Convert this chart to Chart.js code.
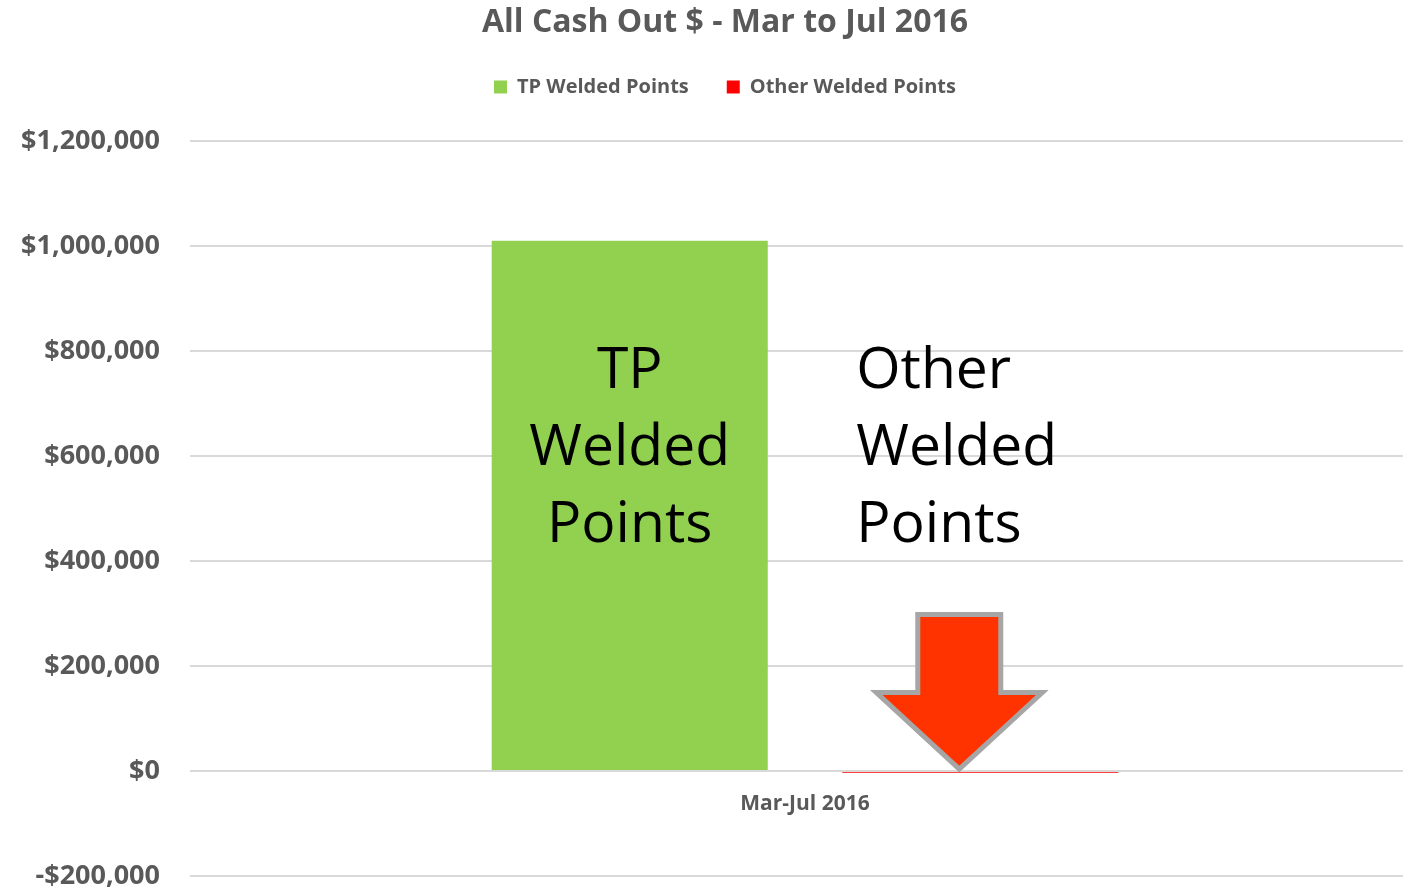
<!DOCTYPE html>
<html>
<head>
<meta charset="utf-8">
<title>All Cash Out $ - Mar to Jul 2016</title>
<script src="https://cdn.jsdelivr.net/npm/chart.js@4"></script>
<style>
    html, body { margin: 0; padding: 0; background: #fff; overflow: hidden; }
    #wrap { position: relative; width: 1450px; height: 890px; }
</style>
</head>
<body>
<div id="wrap"><canvas id="myChart"></canvas></div>
<script>
// data
var categories = ['Mar-Jul 2016'];
var seriesNames = ['TP Welded Points', 'Other Welded Points'];
var tpValues = [1010000];
var otherValues = [-3500];
var yMin = -200000;
var yMax = 1200000;
var yStep = 200000;

var grey = '#595959';
var font = '"Open Sans", "DejaVu Sans", sans-serif';

function money(v) {
    var s = '$' + Math.abs(v).toLocaleString('en-US');
    return v < 0 ? '-' + s : s;
}

// text boxes and the red arrow that sit on top of the bars
var overlay = {
    id: 'overlay',
    afterDatasetsDraw: function (chart) {
        var c = chart.ctx;
        var y = chart.scales.y;
        var zero = y.getPixelForValue(0);
        var tp = chart.getDatasetMeta(0).data[0];
        var other = chart.getDatasetMeta(1).data[0];

        c.save();
        c.fillStyle = '#000';
        c.font = '57px ' + font;
        c.textBaseline = 'middle';
        var lines = ['TP', 'Welded', 'Points'];
        c.textAlign = 'center';
        lines.forEach(function (t, i) {
            c.fillText(t, tp.x, zero - 399 + i * 77);
        });
        var lines2 = ['Other', 'Welded', 'Points'];
        c.textAlign = 'left';
        var left = other.x - other.width / 2 + 14;
        lines2.forEach(function (t, i) {
            c.fillText(t, left, zero - 399 + i * 77);
        });

        // down arrow
        var ax = other.x - 21;
        c.beginPath();
        c.moveTo(ax - 41.5, zero - 156.5);
        c.lineTo(ax + 41.5, zero - 156.5);
        c.lineTo(ax + 41.5, zero - 78.5);
        c.lineTo(ax + 83, zero - 78.5);
        c.lineTo(ax, zero - 2);
        c.lineTo(ax - 83, zero - 78.5);
        c.lineTo(ax - 41.5, zero - 78.5);
        c.closePath();
        c.fillStyle = '#ff3300';
        c.fill();
        c.lineWidth = 5;
        c.strokeStyle = '#a6a6a6';
        c.lineJoin = 'miter';
        c.stroke();
        c.restore();
    }
};

var ctx = document.getElementById('myChart').getContext('2d');
var myChart = new Chart(ctx, {
    type: 'bar',
    data: {
        labels: categories,
        datasets: [{
            label: seriesNames[0],
            data: tpValues,
            backgroundColor: '#92d050',
            categoryPercentage: 0.57,
            barPercentage: 0.7875
        }, {
            label: seriesNames[1],
            data: otherValues,
            backgroundColor: '#ff0000',
            categoryPercentage: 0.57,
            barPercentage: 0.7875
        }]
    },
    options: {
        responsive: true,
        maintainAspectRatio: false,
        animation: false,
        layout: { padding: { left: 30, right: 30, top: 0, bottom: 14 } },
        plugins: {
            title: {
                display: true,
                text: 'All Cash Out $ - Mar to Jul 2016',
                color: grey,
                font: { family: font, size: 32, weight: 'bold', lineHeight: 1 },
                padding: { top: 7, bottom: 0 }
            },
            // empty spacer between the legend and the plot
            subtitle: {
                display: true,
                text: '',
                weight: 500,
                font: { size: 2, lineHeight: 1 },
                padding: { top: 0, bottom: 32 }
            },
            legend: {
                position: 'top',
                labels: {
                    color: grey,
                    font: { family: font, size: 20, weight: 'bold' },
                    boxWidth: 13,
                    boxHeight: 13,
                    padding: 38
                }
            },
            tooltip: { enabled: false }
        },
        scales: {
            x: {
                position: { y: 0 },
                afterFit: function (scale) { scale.height = 0; },
                grid: { display: false, drawTicks: false },
                border: { display: false },
                ticks: {
                    color: grey,
                    font: { family: font, size: 21, weight: 'bold' },
                    padding: 20
                }
            },
            y: {
                min: yMin,
                max: yMax,
                afterFit: function (scale) {
                    scale.width = 160;
                    scale.paddingTop = 0;
                    scale.paddingBottom = 0;
                    // long labels run past the left padding, don't clip them
                    scale._computeLabelArea = function () { return null; };
                },
                grid: { color: '#d9d9d9', lineWidth: 2, drawTicks: false },
                border: { display: false },
                ticks: {
                    stepSize: yStep,
                    color: grey,
                    padding: 30,
                    font: { family: font, size: 27, weight: 'bold' },
                    callback: function (v) { return money(v); }
                }
            }
        }
    },
    plugins: [overlay]
});
</script>
</body>
</html>
